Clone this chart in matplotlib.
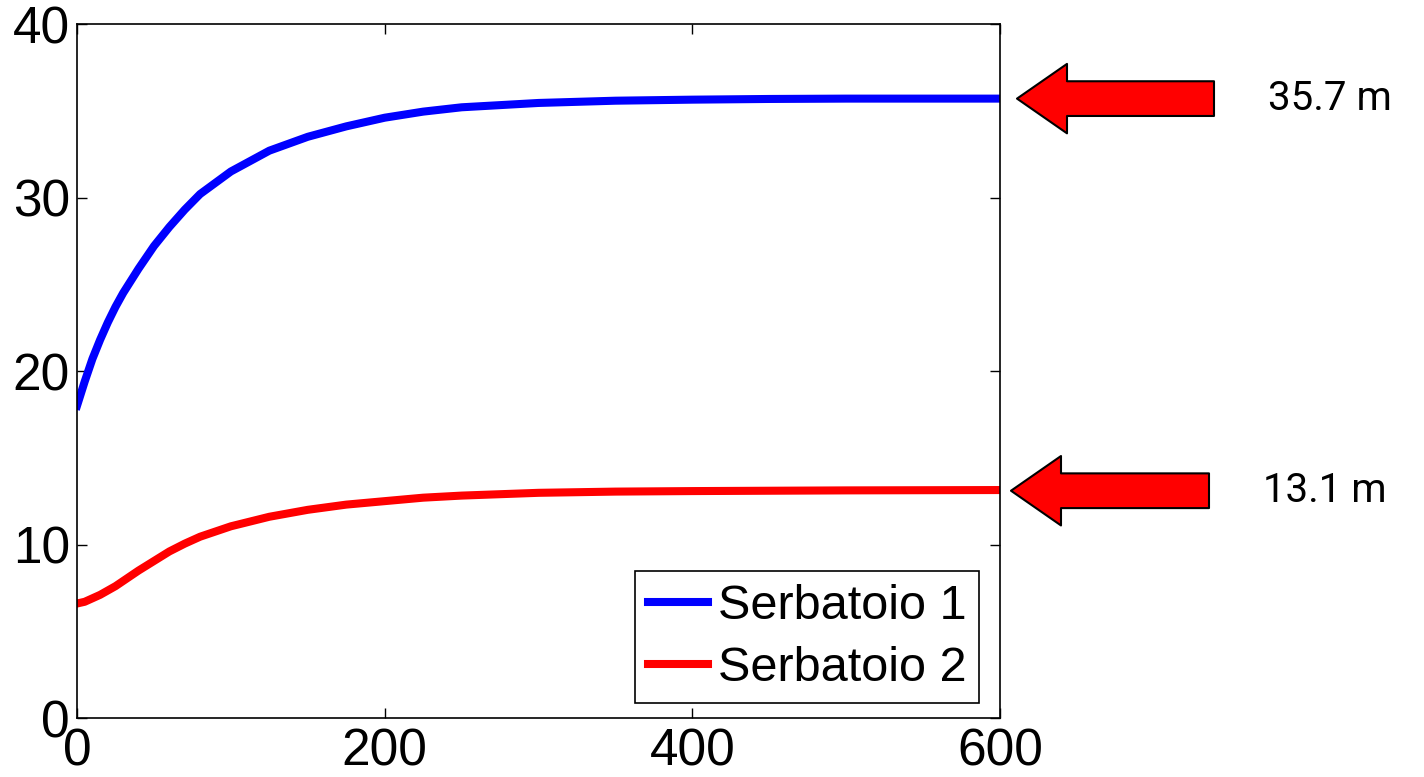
import numpy as np
import matplotlib
matplotlib.use("Agg")
import matplotlib.pyplot as plt

# Tank levels (time vs level in m)
t = [0, 5, 10, 15, 20, 25, 30, 40, 50, 60, 70, 80, 100, 125, 150, 175,
     200, 225, 250, 300, 350, 400, 450, 500, 600]
level_1 = [18.0, 19.4, 20.7, 21.8, 22.8, 23.7, 24.5, 25.9, 27.2, 28.3, 29.3,
           30.2, 31.5, 32.7, 33.5, 34.1, 34.6, 34.95, 35.2, 35.45, 35.58,
           35.64, 35.68, 35.7, 35.7]
level_2 = [6.6, 6.7, 6.9, 7.1, 7.35, 7.6, 7.9, 8.5, 9.05, 9.6, 10.05, 10.45,
           11.05, 11.6, 12.0, 12.3, 12.5, 12.7, 12.82, 12.98, 13.05, 13.08,
           13.1, 13.12, 13.14]
labels = ["Serbatoio 1", "Serbatoio 2"]
final_levels = [35.7, 13.1]
final_texts = ["35.7 m", "13.1 m"]

plt.rcParams["font.family"] = ["Liberation Sans", "DejaVu Sans"]

fig = plt.figure(figsize=(14.24, 7.77), dpi=100)
ax = fig.add_axes([0.0541, 0.0759, 0.6482, 0.8932])

ax.plot(t, level_1, color="#0000ff", lw=5.8, label=labels[0])
ax.plot(t, level_2, color="#ff0000", lw=5.8, label=labels[1])

ax.set_xlim(0, 600)
ax.set_ylim(0, 40)
ax.set_xticks([0, 200, 400, 600])
ax.set_yticks([0, 10, 20, 30, 40])
ax.tick_params(direction="in", top=True, right=True, length=7, width=1,
               labelsize=37)
ax.tick_params(axis="x", pad=7)
ax.tick_params(axis="y", pad=5)
for s in ax.spines.values():
    s.set_linewidth(1.2)

leg = ax.legend(loc="lower right", bbox_to_anchor=(0.977, 0.022),
                borderaxespad=0, fontsize=35, handlelength=1.25,
                handletextpad=0.2, labelspacing=0.35, borderpad=0.25,
                fancybox=False, framealpha=1, edgecolor="black")
leg.get_frame().set_linewidth(1.2)

# Red arrows pointing at the steady-state levels
tip_x = [1017, 1011]
tail_x = [1214, 1209]
text_x = [1268, 1263]
for lvl, txt, tx, ax0, ax1 in zip(final_levels, final_texts, text_x, tip_x, tail_x):
    ax.annotate("", xy=(ax0, lvl), xycoords=("figure pixels", "data"),
                xytext=(ax1, lvl), textcoords=("figure pixels", "data"),
                arrowprops=dict(
                    arrowstyle="simple,head_length=0.36,head_width=0.5,tail_width=0.25",
                    mutation_scale=100, fc="#ff0000", ec="black", lw=1.5,
                    shrinkA=0, shrinkB=0),
                annotation_clip=False)
    ax.annotate(txt, xy=(tx, lvl), xycoords=("figure pixels", "data"),
                ha="left", va="center", fontsize=29, family="Roboto",
                annotation_clip=False)

fig.savefig("out.png", dpi=100)
